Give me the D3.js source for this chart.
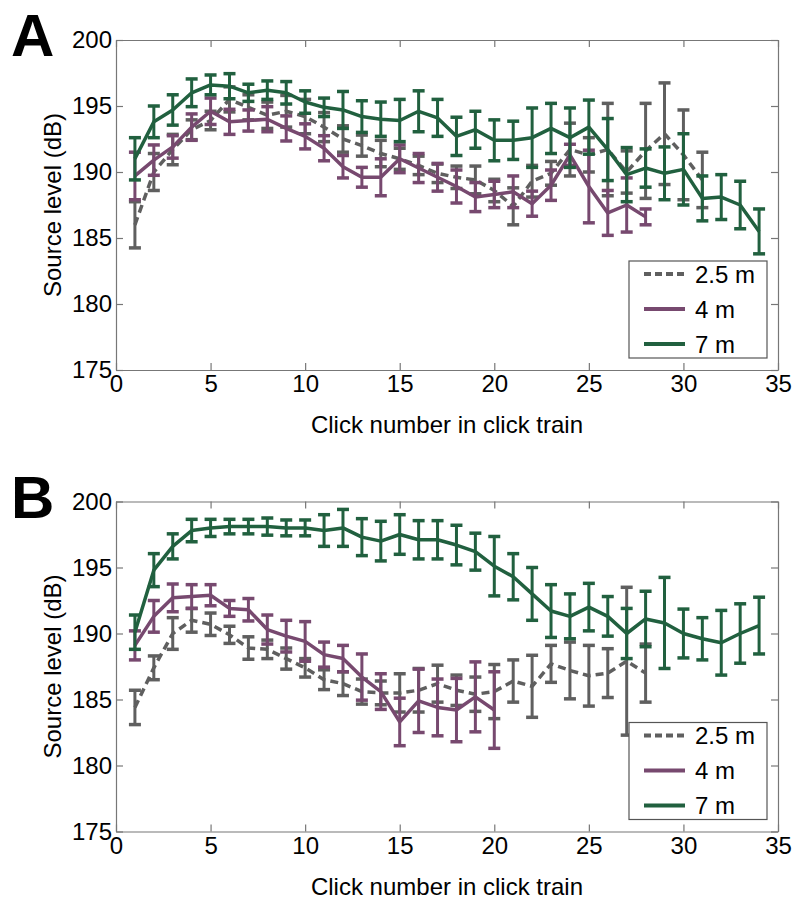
<!DOCTYPE html>
<html>
<head>
<meta charset="utf-8">
<script src="https://cdnjs.cloudflare.com/ajax/libs/d3/7.8.5/d3.min.js"></script>
<style>
  body { margin: 0; background: #fff; }
  svg text { font-family: "Liberation Sans", Arial, sans-serif; fill: #000; }
</style>
</head>
<body>
<div id="chart"></div>
<script>
//Series labels and colours
var seriesNames = ["2.5 m", "4 m", "7 m"];
var seriesColors = ["#5f5f5f", "#77496f", "#21603f"];

//Tick labels
var xTicks = [0, 5, 10, 15, 20, 25, 30, 35];
var yTicks = [175, 180, 185, 190, 195, 200];

//Panel A: mean source level and error (dB) per click number
var a25Mean = [186.0, 190.0, 191.7, 193.2, 193.9, 195.5, 194.9, 194.3, 194.6, 194.2, 193.4, 192.5, 192.0, 191.4, 191.0, 190.5,
  189.9, 189.6, 189.4, 188.6, 187.4, 189.3, 189.9, 191.7, 191.3, 191.7, 190.0, 191.6, 192.9, 191.3, 189.4];
var a25Err = [1.75, 1.4, 1.15, 0.75, 0.7, 0.95, 0.95, 1.0, 1.2, 1.3, 1.1, 1.0, 0.8, 1.0, 0.8, 0.7,
  0.7, 0.85, 1.05, 0.85, 1.4, 1.2, 0.9, 2.0, 1.3, 3.5, 1.6, 3.6, 3.85, 3.4, 2.1];
var a4Mean = [189.7, 190.9, 191.9, 193.4, 194.6, 193.8, 193.9, 194.0, 193.3, 192.7, 191.8, 190.4, 189.6, 189.6, 191.0, 190.3,
  189.6, 188.9, 188.1, 188.3, 188.5, 187.6, 189.0, 191.3, 188.9, 186.9, 187.5, 186.6];
var a4Err = [1.8, 1.15, 0.85, 1.0, 1.0, 0.95, 0.8, 0.95, 0.95, 0.95, 0.95, 0.85, 0.75, 1.4, 1.05, 1.1,
  1.05, 1.25, 1.1, 1.0, 1.2, 0.95, 1.15, 0.8, 2.75, 1.7, 2.05, 0.6];
var a7Mean = [191.0, 193.8, 194.7, 196.0, 196.6, 196.5, 196.0, 196.2, 196.0, 195.3, 194.9, 194.7, 194.2, 194.0, 193.9, 194.6,
  194.1, 192.7, 193.2, 192.4, 192.4, 192.6, 193.3, 192.6, 193.4, 191.7, 189.8, 190.3, 189.9, 190.2, 188.0, 188.1, 187.5, 185.5];
var a7Err = [1.6, 1.2, 1.15, 1.05, 0.75, 0.95, 0.65, 0.7, 0.85, 0.85, 0.7, 1.4, 1.2, 1.3, 1.6, 1.55,
  1.4, 1.45, 1.4, 1.55, 1.45, 2.25, 1.9, 2.25, 2.05, 2.35, 2.05, 1.45, 2.0, 2.7, 1.7, 1.7, 1.8, 1.7];

//Panel B
var b25Mean = [184.4, 187.4, 190.0, 191.0, 190.7, 189.9, 188.9, 188.8, 188.1, 187.4, 186.5, 186.2, 185.6, 185.5, 185.5, 185.7,
  186.2, 185.7, 185.4, 185.6, 186.4, 186.0, 187.7, 187.2, 186.8, 187.0, 187.9, 187.0];
var b25Err = [1.3, 0.9, 1.2, 0.9, 0.85, 0.65, 0.85, 0.7, 0.8, 0.7, 0.75, 0.9, 0.95, 0.9, 1.45, 1.65,
  1.4, 1.15, 1.3, 2.05, 1.6, 2.35, 1.4, 2.15, 2.3, 1.85, 5.6, 2.2];
var b4Mean = [189.1, 191.3, 192.7, 192.8, 192.9, 191.9, 191.8, 190.3, 189.8, 189.4, 188.4, 188.1, 186.7, 185.6, 183.3, 184.9,
  184.4, 184.2, 185.2, 184.2];
var b4Err = [1.1, 1.2, 1.05, 0.9, 0.8, 0.6, 0.85, 1.1, 1.2, 1.5, 0.95, 1.0, 1.75, 1.35, 1.8, 2.4,
  2.15, 2.4, 2.65, 2.9];
var b7Mean = [190.1, 194.8, 196.6, 197.8, 198.0, 198.1, 198.1, 198.1, 198.0, 198.0, 197.8, 198.0, 197.3, 197.0, 197.5, 197.1,
  197.1, 196.7, 196.2, 195.1, 194.3, 193.0, 191.7, 191.3, 192.0, 191.3, 190.0, 191.1, 190.8, 190.0, 189.6, 189.3, 190.0, 190.6];
var b7Err = [1.3, 1.25, 0.95, 0.85, 0.65, 0.55, 0.55, 0.65, 0.6, 0.6, 1.2, 1.4, 1.4, 1.5, 1.5, 1.45,
  1.45, 1.5, 1.4, 2.25, 1.75, 2.0, 2.0, 1.7, 1.8, 1.5, 1.9, 2.1, 3.45, 1.85, 1.6, 2.45, 2.25, 2.15];

//Setup SVG size vars
var svgWidth = 794, svgHeight = 900;
var margin = { left: 116, right: 16 },
  width = svgWidth - margin.left - margin.right,
  height = 330;
var fontSize = "24px";

var panels = [
  { letter: "A", top: 40, means: [a25Mean, a4Mean, a7Mean], errs: [a25Err, a4Err, a7Err] },
  { letter: "B", top: 501.5, means: [b25Mean, b4Mean, b7Mean], errs: [b25Err, b4Err, b7Err] }
];

var svg = d3.select("#chart")
  .append("svg")
  .attr("width", svgWidth)
  .attr("height", svgHeight);

var x = d3.scaleLinear().domain([0, 35]).range([0, width]);
var y = d3.scaleLinear().domain([175, 200]).range([height, 0]);
var tickLen = 7;
var capHalf = 6;

function buildSeries(mean, err) {
  return mean.map(function(m, i) {
    return { click: i + 1, mean: m, err: err[i] };
  });
}

panels.forEach(function(p) {
  var g = svg.append("g")
    .attr("transform", "translate(" + margin.left + "," + p.top + ")");

  //Box with inward ticks on all sides (matlab look)
  g.append("g")
    .attr("transform", "translate(0," + height + ")")
    .call(d3.axisBottom(x).tickValues(xTicks).tickSizeInner(-tickLen).tickSizeOuter(0).tickPadding(5))
    .call(styleAxis);
  g.append("g")
    .call(d3.axisTop(x).tickValues(xTicks).tickSizeInner(-tickLen).tickSizeOuter(0).tickFormat(""))
    .call(styleAxis);
  g.append("g")
    .call(d3.axisLeft(y).tickValues(yTicks).tickSizeInner(-tickLen).tickSizeOuter(0).tickPadding(4))
    .call(styleAxis);
  g.append("g")
    .attr("transform", "translate(" + width + ",0)")
    .call(d3.axisRight(y).tickValues(yTicks).tickSizeInner(-tickLen).tickSizeOuter(0).tickFormat(""))
    .call(styleAxis);

  //Draw series: gray first, green on top
  p.means.forEach(function(mean, k) {
    var data = buildSeries(mean, p.errs[k]);
    var col = seriesColors[k];
    var s = g.append("g").attr("class", "series");

    var bars = s.selectAll(".eb").data(data).enter().append("g").attr("class", "eb");
    bars.append("line")
      .attr("x1", function(d) { return x(d.click); })
      .attr("x2", function(d) { return x(d.click); })
      .attr("y1", function(d) { return y(d.mean + d.err); })
      .attr("y2", function(d) { return y(d.mean - d.err); })
      .style("stroke", col).style("stroke-width", 3);
    [1, -1].forEach(function(sign) {
      bars.append("line")
        .attr("x1", function(d) { return x(d.click) - capHalf; })
        .attr("x2", function(d) { return x(d.click) + capHalf; })
        .attr("y1", function(d) { return y(d.mean + sign * d.err); })
        .attr("y2", function(d) { return y(d.mean + sign * d.err); })
        .style("stroke", col).style("stroke-width", 3.5);
    });

    s.append("path")
      .datum(data)
      .attr("d", d3.line()
        .x(function(d) { return x(d.click); })
        .y(function(d) { return y(d.mean); }))
      .style("fill", "none")
      .style("stroke", col)
      .style("stroke-width", 3.5)
      .style("stroke-linejoin", "round")
      .style("stroke-dasharray", k === 0 ? "8,5" : null);
  });

  //Legend
  var legend = g.append("g")
    .attr("transform", "translate(" + (629 - margin.left) + ",221)");
  legend.append("rect")
    .attr("width", 138)
    .attr("height", 97)
    .style("fill", "#fff")
    .style("stroke", "#555")
    .style("stroke-width", 1.2);
  var rows = legend.selectAll(".legendRow")
    .data(seriesNames)
    .enter()
    .append("g")
    .attr("class", "legendRow")
    .attr("transform", function(d, i) { return "translate(0," + (13 + i * 35) + ")"; });
  rows.append("line")
    .attr("x1", 15).attr("x2", 56)
    .style("stroke", function(d, i) { return seriesColors[i]; })
    .style("stroke-width", 4)
    .style("stroke-dasharray", function(d, i) { return i === 0 ? "7,4" : null; });
  rows.append("text")
    .attr("x", 66)
    .attr("dy", ".36em")
    .style("font-size", fontSize)
    .text(function(d) { return d; });

  //Axis titles
  g.append("text")
    .attr("x", width / 2)
    .attr("y", height + 63)
    .style("text-anchor", "middle")
    .style("font-size", fontSize)
    .text("Click number in click train");
  g.append("text")
    .attr("transform", "rotate(-90)")
    .attr("x", -height / 2)
    .attr("y", -margin.left + 61)
    .style("text-anchor", "middle")
    .style("font-size", fontSize)
    .text("Source level (dB)");

  //Panel letter
  svg.append("text")
    .attr("x", 11)
    .attr("y", p.top + 16)
    .style("font-size", "60px")
    .style("font-weight", "bold")
    .text(p.letter);
});

function styleAxis(sel) {
  sel.select(".domain").style("stroke", "#777").style("stroke-width", 1.2);
  sel.selectAll(".tick line").style("stroke", "#777").style("stroke-width", 1.2);
  sel.selectAll(".tick text")
    .style("font-size", fontSize)
    .style("font-family", "'Liberation Sans', Arial, sans-serif")
    .style("fill", "#000");
}
</script>
</body>
</html>
